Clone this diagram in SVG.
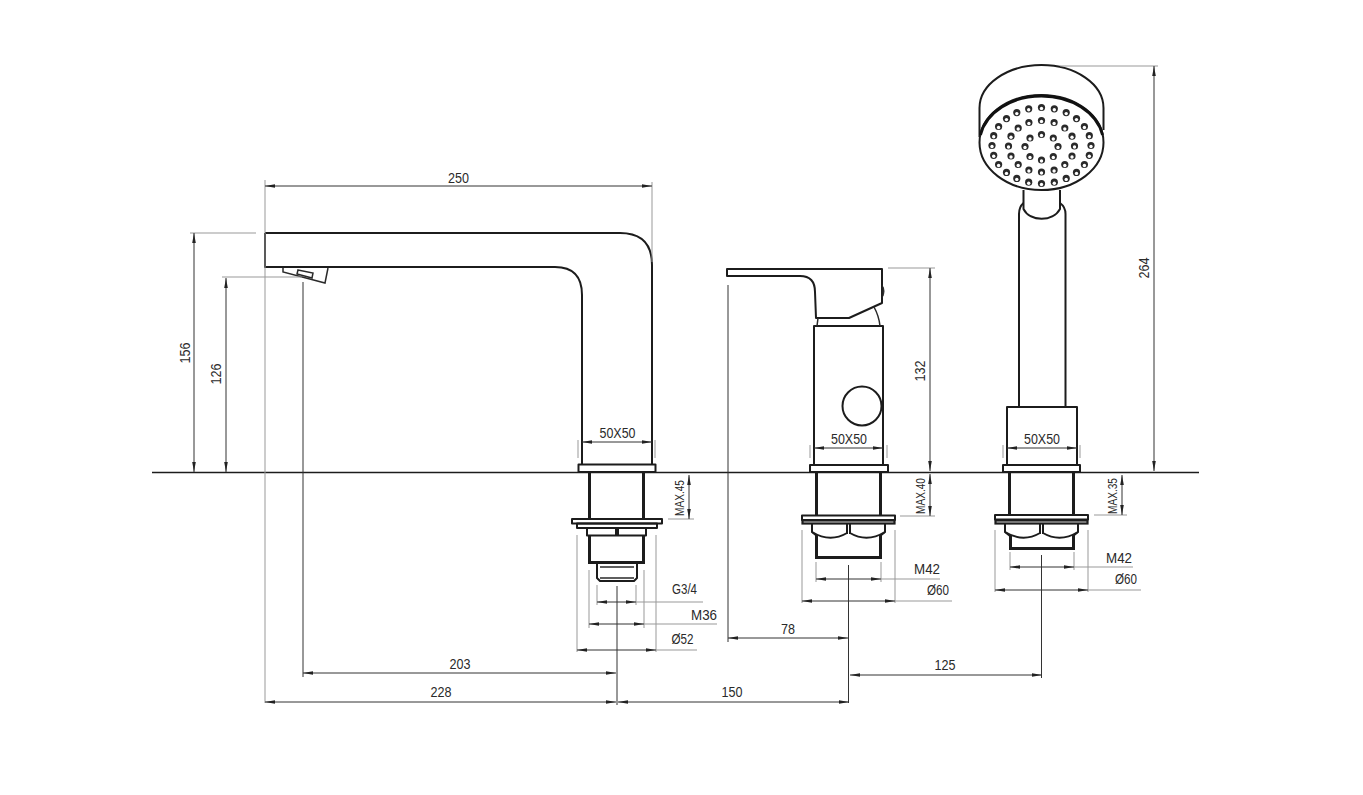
<svg xmlns="http://www.w3.org/2000/svg" width="1363" height="795" viewBox="0 0 1363 795">
<style>
.o{fill:none;stroke:#1c1c1c;stroke-width:2;stroke-linejoin:round}
.t{fill:none;stroke:#1c1c1c;stroke-width:3}
.m{fill:none;stroke:#2a2a2a;stroke-width:1.5}
.d{fill:none;stroke:#333;stroke-width:1}
.e{fill:none;stroke:#999;stroke-width:1}
.a{marker-start:url(#s);marker-end:url(#n)}
text{font-family:"Liberation Sans",Arial,sans-serif;font-size:15px;fill:#2a2a2a;text-anchor:middle}
.x{font-size:12.500px}
</style>
<defs>
<marker id="n" markerWidth="11" markerHeight="5" refX="10" refY="2.5" orient="auto" markerUnits="userSpaceOnUse"><path d="M0,0.7L10,2.5L0,4.3z" fill="#222"/></marker>
<marker id="s" markerWidth="11" markerHeight="5" refX="0" refY="2.5" orient="auto" markerUnits="userSpaceOnUse"><path d="M10,0.7L0,2.5L10,4.3z" fill="#222"/></marker>
<g id="hole"><circle r="3.600" fill="#2a2a2a"/><circle cy="1" r="1.700" fill="#fff"/></g>
</defs>
<rect width="1363" height="795" fill="#fff"/>
<g id="ground"><path d="M152,472.500H1199" stroke="#1c1c1c" stroke-width="1.600" fill="none"/></g>
<g id="spout">
<path class="o" d="M265,233H620Q652,233 652,265V464M265,233V267H555Q582,267 582,295V464"/>
<path class="m" d="M283,268L283,272L325,283L328,268"/>
<path class="m" d="M298,270L313,273L312,278L297,274Z"/>
<rect class="o" x="578.500" y="464.500" width="77" height="7.500"/>
<path class="t" d="M589.500,473V519M643.500,473V519"/>
<rect class="o" x="572" y="519" width="90" height="4.500"/>
<rect class="o" x="577" y="523.500" width="80" height="4.500"/>
<path class="o" d="M587,528V535.500H646V528M616,528V535M618,528V535"/>
<path class="t" d="M589.500,536V562.500H643.500V536"/>
<path class="o" d="M597,563V578L600,581H634L637,578V563"/>
<path class="m" d="M600,567H634M600,578H634"/>
</g>
<g id="mixer">
<path class="o" d="M727,269H882V303L849,318H816L815,292Q815,276 800,276H727Z"/>
<path d="M882,285Q886,291 882,298Z" fill="#222" stroke="#222"/>
<path class="o" d="M814,465V326H883V465"/>
<path class="m" d="M818,318L817,326M874,307Q879,316 880,326"/>
<circle class="o" cx="862" cy="406" r="19.500"/>
<rect class="o" x="810" y="465" width="78" height="7"/>
<path class="t" d="M816.500,473V516M880.500,473V516"/>
<rect class="o" x="802" y="515.500" width="93" height="4.500"/>
<rect class="t" x="802.500" y="520.500" width="92" height="3" style="stroke-width:2.200"/>
<path class="o" d="M812,524V532L817,536M885,524V532L880,536"/>
<path class="o" d="M812,532Q830,543 847,533M885,532Q867,543 850,533M847,524V534M850,524V534"/>
<path class="t" d="M816.500,535V557.500H880.500V535"/>
</g>
<g id="shower">
<path class="o" d="M979.500,137V108A62,43 0 0 1 1103.500,108V130"/>
<ellipse cx="1041.500" cy="142.500" rx="62" ry="47.500" fill="none" stroke="#1c1c1c" stroke-width="2"/>
<path d="M980.500,135A62,47.500 0 0 1 1102.500,135" fill="none" stroke="#111" stroke-width="2.800"/>
<g id="holes">
<use href="#hole" x="992" y="145.500"/><use href="#hole" x="993.700" y="135.700"/><use href="#hole" x="998.600" y="126.500"/><use href="#hole" x="1006.500" y="118.600"/><use href="#hole" x="1016.800" y="112.600"/><use href="#hole" x="1028.700" y="108.800"/><use href="#hole" x="1041.500" y="107.500"/><use href="#hole" x="1054.300" y="108.800"/><use href="#hole" x="1066.200" y="112.600"/><use href="#hole" x="1076.500" y="118.600"/><use href="#hole" x="1084.400" y="126.500"/><use href="#hole" x="1089.300" y="135.700"/><use href="#hole" x="1091" y="145.500"/><use href="#hole" x="1089.300" y="155.300"/><use href="#hole" x="1084.400" y="164.500"/><use href="#hole" x="1076.500" y="172.400"/><use href="#hole" x="1066.200" y="178.400"/><use href="#hole" x="1054.300" y="182.200"/><use href="#hole" x="1041.500" y="183.500"/><use href="#hole" x="1028.700" y="182.200"/><use href="#hole" x="1016.800" y="178.400"/><use href="#hole" x="1006.500" y="172.400"/><use href="#hole" x="998.600" y="164.500"/><use href="#hole" x="993.700" y="155.300"/>
<use href="#hole" x="1008.500" y="146"/><use href="#hole" x="1011" y="136.200"/><use href="#hole" x="1018.200" y="128"/><use href="#hole" x="1028.900" y="122.500"/><use href="#hole" x="1041.500" y="120.500"/><use href="#hole" x="1054.100" y="122.500"/><use href="#hole" x="1064.800" y="128"/><use href="#hole" x="1072" y="136.200"/><use href="#hole" x="1074.500" y="146"/><use href="#hole" x="1072" y="156"/><use href="#hole" x="1064.800" y="164.500"/><use href="#hole" x="1054.100" y="170"/><use href="#hole" x="1041.500" y="172"/><use href="#hole" x="1028.900" y="170"/><use href="#hole" x="1018.200" y="164.500"/><use href="#hole" x="1011" y="156"/>
<use href="#hole" x="1025" y="146.500"/><use href="#hole" x="1030" y="138"/><use href="#hole" x="1041.500" y="134.500"/><use href="#hole" x="1053.300" y="138"/><use href="#hole" x="1058" y="146.500"/><use href="#hole" x="1053.300" y="156.500"/><use href="#hole" x="1041.500" y="160"/><use href="#hole" x="1030" y="156.500"/>
</g>
<path class="o" d="M1023.500,190V209C1030,222 1053,222 1060,209V190"/>
<path class="o" d="M1019,407V214Q1019,207 1023.500,203M1065.500,407V214Q1065.500,207 1060,203"/>
<rect class="o" x="1007" y="407" width="70" height="58"/>
<rect class="o" x="1003" y="465" width="77" height="7"/>
<path class="t" d="M1009.500,473V515M1073.500,473V515"/>
<rect class="o" x="995" y="515" width="93" height="4.500"/>
<rect class="t" x="995.500" y="520.500" width="92" height="3" style="stroke-width:2.200"/>
<path class="o" d="M1005,524V532L1010,536M1078,524V532L1073,536"/>
<path class="o" d="M1005,532Q1023,543 1040,533M1078,532Q1060,543 1043,533M1040,524V534M1043,524V534"/>
<path class="t" d="M1010.500,535V548.500H1073.500V535"/>
</g>
<g id="connectors">
<path class="e" d="M265,180V703M652,182V262M190,233H256M222,277H302M888,268H935M1060,66H1158M578,440V458M655,440V458M810,445V458M887,445V458M1003,445V458M1080,445V458"/>
<path class="e" d="M597,585V605M636,585V605M589,570V628M644,570V628M577,535V652M656,535V652M668,519H694M816,562V582M881,562V582M802,530V603M895,530V603M900,516H935M1010,552V570M1074,552V570M995,530V592M1088,530V592M1094,515H1127"/>
<path class="e" d="M636,602H703M644,624H717M656,650H697M881,579H940M895,601H952M1074,567H1133M1088,590H1141"/>
<path class="d" d="M728,285V642M303,282V677M617,586V705M848.500,565V703M1041.500,555V678"/>
<path class="d a" d="M265,186H652"/>
<path class="d a" d="M194,233V472"/>
<path class="d a" d="M226,278V472"/>
<path class="d a" d="M303,673H616"/>
<path class="d a" d="M265,702H616"/>
<path class="d a" d="M618,702H849"/>
<path class="d a" d="M728,638H848"/>
<path class="d a" d="M850,675H1042"/>
<path class="d a" d="M582,442H652"/>
<path class="d a" d="M814,448H883"/>
<path class="d a" d="M1007,448H1077"/>
<path class="d a" d="M597,602H636"/>
<path class="d a" d="M589,624H644"/>
<path class="d a" d="M577,650H656"/>
<path class="d a" d="M816,579H881"/>
<path class="d a" d="M802,601H895"/>
<path class="d a" d="M1010,567H1074"/>
<path class="d a" d="M995,590H1088"/>
<path class="d a" d="M689,475V519"/>
<path class="d a" d="M930,474V516"/>
<path class="d a" d="M1122,475V515"/>
<path class="d a" d="M930,268V471"/>
<path class="d a" d="M1154,66V471"/>
</g>
<g id="labels">
<text x="458.500" y="182.500" textLength="21" lengthAdjust="spacingAndGlyphs">250</text>
<text transform="translate(190,353) rotate(-90)" textLength="21" lengthAdjust="spacingAndGlyphs">156</text>
<text transform="translate(221,374) rotate(-90)" textLength="21" lengthAdjust="spacingAndGlyphs">126</text>
<text transform="translate(925,371) rotate(-90)" textLength="21" lengthAdjust="spacingAndGlyphs">132</text>
<text transform="translate(1149,268) rotate(-90)" textLength="21" lengthAdjust="spacingAndGlyphs">264</text>
<text x="617.500" y="438" textLength="36" lengthAdjust="spacingAndGlyphs">50X50</text>
<text x="849" y="444" textLength="36" lengthAdjust="spacingAndGlyphs">50X50</text>
<text x="1042" y="443.500" textLength="36" lengthAdjust="spacingAndGlyphs">50X50</text>
<text class="x" transform="translate(684,498) rotate(-90)" textLength="36" lengthAdjust="spacingAndGlyphs">MAX.45</text>
<text class="x" transform="translate(925,496) rotate(-90)" textLength="36" lengthAdjust="spacingAndGlyphs">MAX.40</text>
<text class="x" transform="translate(1117,496) rotate(-90)" textLength="36" lengthAdjust="spacingAndGlyphs">MAX.35</text>
<text x="684.500" y="594" textLength="25" lengthAdjust="spacingAndGlyphs">G3/4</text>
<text x="704" y="620" textLength="26" lengthAdjust="spacingAndGlyphs">M36</text>
<text x="682.500" y="643.500" textLength="22" lengthAdjust="spacingAndGlyphs">Ø52</text>
<text x="927" y="574" textLength="26" lengthAdjust="spacingAndGlyphs">M42</text>
<text x="938" y="595" textLength="22" lengthAdjust="spacingAndGlyphs">Ø60</text>
<text x="1119" y="563" textLength="26" lengthAdjust="spacingAndGlyphs">M42</text>
<text x="1126" y="584" textLength="22" lengthAdjust="spacingAndGlyphs">Ø60</text>
<text x="460" y="669" textLength="21" lengthAdjust="spacingAndGlyphs">203</text>
<text x="441" y="697" textLength="21" lengthAdjust="spacingAndGlyphs">228</text>
<text x="732" y="697" textLength="21" lengthAdjust="spacingAndGlyphs">150</text>
<text x="788" y="634" textLength="14" lengthAdjust="spacingAndGlyphs">78</text>
<text x="945" y="670" textLength="21" lengthAdjust="spacingAndGlyphs">125</text>
</g>
</svg>
